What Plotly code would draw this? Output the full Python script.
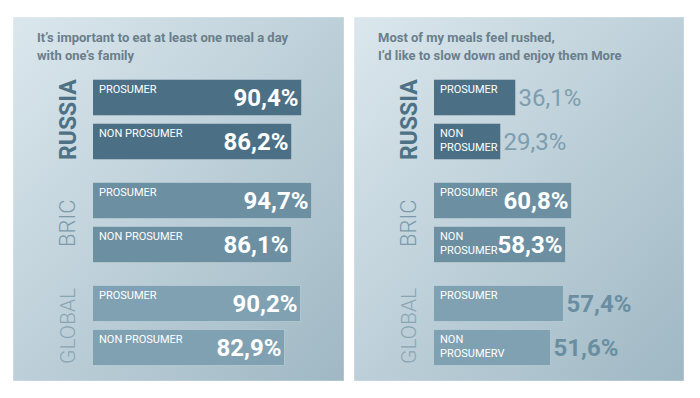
import base64
import plotly.graph_objects as go

# ---------------- data ----------------
regions = ["RUSSIA", "BRIC", "GLOBAL"]
segments_left = ["PROSUMER", "NON PROSUMER"]
segments_right = [["PROSUMER", "NON<br>PROSUMER"],
                  ["PROSUMER", "NON<br>PROSUMER"],
                  ["PROSUMER", "NON<br>PROSUMERV"]]
family_russia = [90.4, 86.2]
family_bric = [94.7, 86.1]
family_global = [90.2, 82.9]
rushed_russia = [36.1, 29.3]
rushed_bric = [60.8, 58.3]
rushed_global = [57.4, 51.6]
title_left = ["It’s important to eat at least one meal a day", "with one’s family"]
title_right = ["Most of my meals feel rushed,", "I’d like to slow down and enjoy them More"]

family = [family_russia, family_bric, family_global]
rushed = [rushed_russia, rushed_bric, rushed_global]

# ---------------- style ----------------
W, H = 700, 398
FONT = "Roboto, Liberation Sans, sans-serif"
bar_colors = ["#4b7085", "#6c8fa1", "#7fa1b2"]
region_colors = ["#4d7185", "#7b9aab", "#88a5b4"]
region_bold = [True, False, False]
region_sizes = [23, 22, 21]
right_text_pos = ["outside", "inside", "outside"]
right_out_colors = ["#7d9eaf", "#ffffff", "#6a8ea1"]
right_weights = ["normal", "bold", "bold"]
GROUP_STEP = 2.34
BAR_W = 0.82


def fmt(v):
    return f"{v:.1f}%".replace(".", ",")


def pos(g):
    return [g * GROUP_STEP + k for k in range(2)]


fig = go.Figure()

for g, region in enumerate(regions):
    ys = pos(g)
    fig.add_trace(go.Bar(
        x=family[g], y=ys, orientation="h", width=BAR_W,
        marker=dict(color=bar_colors[g], line=dict(color="rgba(255,255,255,0.25)", width=1)),
        text=[fmt(v) for v in family[g]], textposition="inside", insidetextanchor="end",
        textangle=0, constraintext="none",
        textfont=dict(family=FONT, size=24, color="white", weight="bold"),
        xaxis="x", yaxis="y", hoverinfo="skip", showlegend=False, cliponaxis=False,
    ))
    fig.add_trace(go.Bar(
        x=rushed[g], y=ys, orientation="h", width=BAR_W,
        marker=dict(color=bar_colors[g], line=dict(color="rgba(255,255,255,0.25)", width=1)),
        text=[fmt(v) for v in rushed[g]], textposition=right_text_pos[g], insidetextanchor="end",
        textangle=0, constraintext="none",
        textfont=dict(family=FONT, size=24, color=right_out_colors[g], weight=right_weights[g]),
        xaxis="x2", yaxis="y", hoverinfo="skip", showlegend=False, cliponaxis=False,
    ))

annotations = []
for g, region in enumerate(regions):
    ys = pos(g)
    mid = sum(ys) / 2
    for px in (68, 409):
        annotations.append(dict(
            text=region,
            xref="paper", yref="y", x=px / W, y=mid, textangle=-90,
            xanchor="center", yanchor="middle", showarrow=False,
            font=dict(family=FONT, size=region_sizes[g], color=region_colors[g],
                      weight="bold" if region_bold[g] else 300),
        ))
    for k in range(2):
        annotations.append(dict(
            text=segments_left[k], xref="x", yref="y", x=0, y=ys[k] - BAR_W / 2,
            xanchor="left", yanchor="top", xshift=4, yshift=-1, showarrow=False, align="left",
            font=dict(family=FONT, size=11, color="white"),
        ))
        annotations.append(dict(
            text=segments_right[g][k], xref="x2", yref="y", x=0, y=ys[k] - BAR_W / 2,
            xanchor="left", yanchor="top", xshift=4, yshift=-1, showarrow=False, align="left",
            font=dict(family=FONT, size=11, color="white"),
        ))

for lines, px in ((title_left, 35), (title_right, 376)):
    for i, line in enumerate(lines):
        annotations.append(dict(
            text=line, xref="paper", yref="paper", x=px / W, y=1 - (37.5 + 18 * i) / H,
            xanchor="left", yanchor="middle", align="left", showarrow=False,
            font=dict(family=FONT, size=13, color="#6a7e8b", weight="bold"),
        ))


def grad_svg(w, h):
    svg = (f'<svg xmlns="http://www.w3.org/2000/svg" width="{w}" height="{h}">'
           '<defs><linearGradient id="g" x1="0" y1="0" x2="1" y2="1">'
           '<stop offset="0" stop-color="#dbe7ed"/><stop offset="1" stop-color="#9fb8c4"/>'
           '</linearGradient></defs>'
           f'<rect width="{w}" height="{h}" fill="url(#g)"/></svg>')
    return "data:image/svg+xml;base64," + base64.b64encode(svg.encode()).decode()


panels = [(13, 17, 344, 381), (354, 17, 684, 381)]
images = []
shapes = []
for (x0, y0, x1, y1) in panels:
    images.append(dict(
        source=grad_svg(x1 - x0, y1 - y0), xref="paper", yref="paper",
        x=x0 / W, y=1 - y0 / H, sizex=(x1 - x0) / W, sizey=(y1 - y0) / H,
        xanchor="left", yanchor="top", sizing="stretch", layer="below",
    ))
    shapes.append(dict(type="rect", xref="paper", yref="paper",
                       x0=x0 / W, x1=x1 / W, y0=1 - y1 / H, y1=1 - y0 / H,
                       line=dict(color="rgba(255,255,255,0.35)", width=1),
                       fillcolor="rgba(0,0,0,0)", layer="below"))

PX_LEFT = 2.31
PX_RIGHT = 2.27
fig.update_layout(
    width=W, height=H, margin=dict(l=0, r=0, t=0, b=0),
    paper_bgcolor="white", plot_bgcolor="rgba(0,0,0,0)",
    barmode="overlay", bargap=0,
    xaxis=dict(domain=[93 / W, 344 / W], range=[0, (344 - 93) / PX_LEFT], visible=False,
               fixedrange=True, anchor="y"),
    xaxis2=dict(domain=[434 / W, 684 / W], range=[0, (684 - 434) / PX_RIGHT], visible=False,
                fixedrange=True, anchor="y"),
    yaxis=dict(domain=[0, 1], range=[(H - 98) / 44, -98 / 44], visible=False, fixedrange=True),
    annotations=annotations, images=images, shapes=shapes,
    font=dict(family=FONT),
)

fig.write_html("out.html", config={"displayModeBar": False},
               post_script="document.body.style.margin='0';document.body.style.overflow='hidden';")
